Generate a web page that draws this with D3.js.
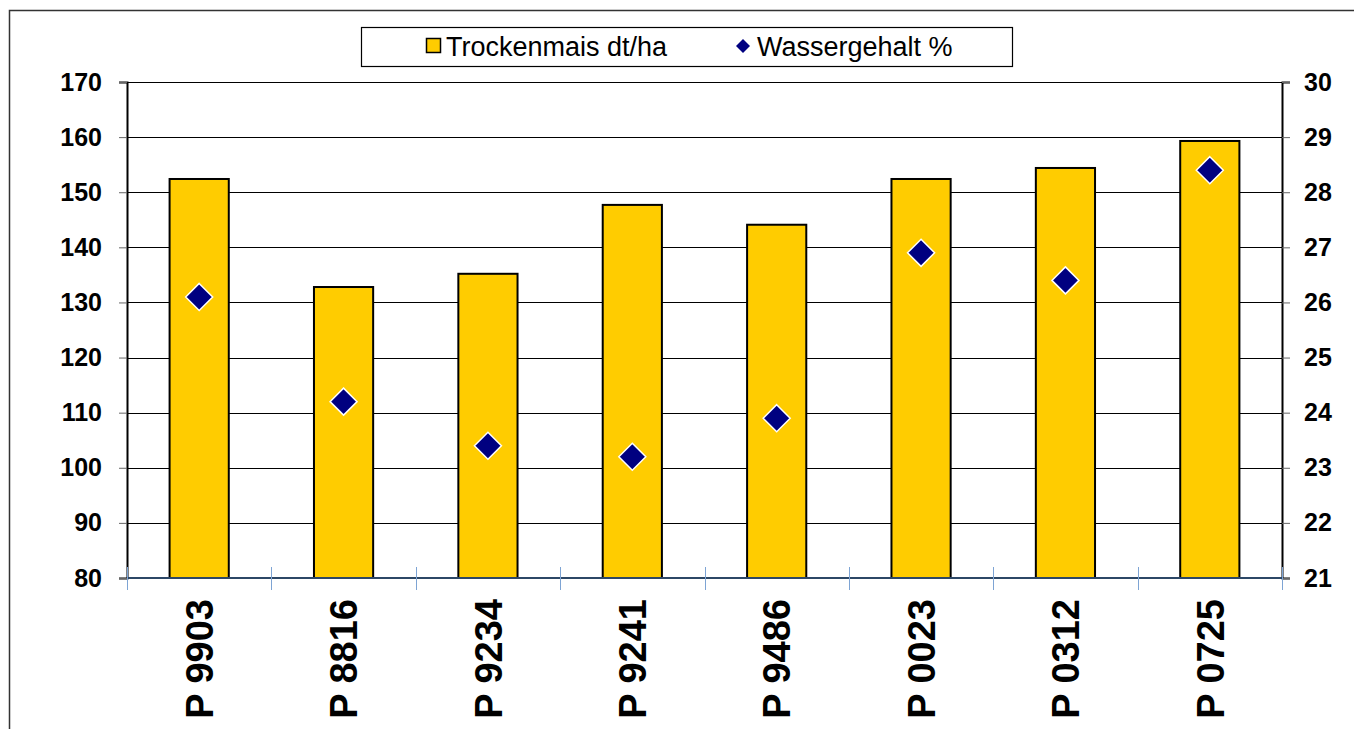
<!DOCTYPE html>
<html lang="de">

<head>
  <meta charset="UTF-8">
  <title>Trockenmais und Wassergehalt</title>
  <style>
    body {
      margin: 0;
      background: #fff;
    }

    svg {
      display: block;
      font-family: Arial, 'Liberation Sans', sans-serif;
    }

    .tick-label {
      font-size: 25px;
      font-weight: bold;
      fill: #000;
    }

    .cat-label {
      font-size: 38px;
      font-weight: bold;
      fill: #000;
    }

    .legend-text {
      font-size: 27px;
      fill: #000;
    }
  </style>
</head>

<body>
  <svg></svg>
</body>
<script src="https://d3js.org/d3.v7.min.js"></script>
<script>

  let sorten = ['P 9903', 'P 8816', 'P 9234', 'P 9241', 'P 9486', 'P 0023', 'P 0312', 'P 0725'];
  let trockenmais = [152.4, 132.8, 135.2, 147.7, 144.1, 152.4, 154.4, 159.3];
  let wassergehalt = [26.1, 24.2, 23.4, 23.2, 23.9, 26.9, 26.4, 28.4];
  let leftTicks = [80, 90, 100, 110, 120, 130, 140, 150, 160, 170];
  let rightTicks = [21, 22, 23, 24, 25, 26, 27, 28, 29, 30];

  let width = 1354,
    height = 729;

  let plot = { left: 127, right: 1282, top: 82, bottom: 578 };

  let svg = d3.select('svg')
    .attr('width', width)
    .attr('height', height);

  // outer chart frame (right and bottom edges fall outside the picture)
  svg.append('rect')
    .attr('x', 9.5)
    .attr('y', 10.5)
    .attr('width', width + 20)
    .attr('height', height + 20)
    .attr('fill', 'none')
    .attr('stroke', '#333')
    .attr('stroke-width', 1.5);

  let x = d3.scaleBand()
    .domain(sorten)
    .range([plot.left, plot.right])
    .paddingInner(0.59)
    .paddingOuter(0.295);

  let yLeft = d3.scaleLinear()
    .domain([80, 170])
    .range([plot.bottom, plot.top]);

  let yRight = d3.scaleLinear()
    .domain([21, 30])
    .range([plot.bottom, plot.top]);

  // gridlines
  svg.append('g')
    .selectAll('line')
    .data(leftTicks.slice(1))
    .enter()
    .append('line')
    .attr('x1', plot.left)
    .attr('x2', plot.right)
    .attr('y1', d => Math.round(yLeft(d)) + 0.5)
    .attr('y2', d => Math.round(yLeft(d)) + 0.5)
    .attr('stroke', '#000')
    .attr('stroke-width', 1);

  // left axis
  let leftAxis = svg.append('g')
    .attr('transform', `translate(${plot.left},0)`)
    .call(d3.axisLeft(yLeft).tickValues(leftTicks).tickSize(8).tickPadding(17));

  leftAxis.select('.domain').attr('stroke', '#000').attr('stroke-width', 2);
  leftAxis.selectAll('.tick line').attr('stroke', '#666');
  leftAxis.selectAll('.tick text')
    .attr('class', 'tick-label')
    .attr('font-family', null)
    .attr('font-size', null);

  // right axis
  let rightAxis = svg.append('g')
    .attr('transform', `translate(${plot.right},0)`)
    .call(d3.axisRight(yRight).tickValues(rightTicks).tickSize(8).tickPadding(14));

  rightAxis.select('.domain').attr('stroke', '#000').attr('stroke-width', 2);
  rightAxis.selectAll('.tick line').attr('stroke', '#666');
  rightAxis.selectAll('.tick text')
    .attr('class', 'tick-label')
    .attr('font-family', null)
    .attr('font-size', null);

  // bars
  svg.append('g')
    .selectAll('rect')
    .data(sorten)
    .enter()
    .append('rect')
    .attr('x', d => x(d))
    .attr('width', x.bandwidth())
    .attr('y', (d, i) => yLeft(trockenmais[i]))
    .attr('height', (d, i) => yLeft(80) - yLeft(trockenmais[i]))
    .attr('fill', '#FFCC00')
    .attr('stroke', '#000')
    .attr('stroke-width', 2);

  // category axis
  svg.append('line')
    .attr('x1', plot.left)
    .attr('x2', plot.right)
    .attr('y1', plot.bottom)
    .attr('y2', plot.bottom)
    .attr('stroke', '#2c4766')
    .attr('stroke-width', 2);

  let step = x.step();
  svg.append('g')
    .selectAll('line')
    .data(d3.range(sorten.length + 1))
    .enter()
    .append('line')
    .attr('x1', i => Math.round(plot.left + i * step) + 0.5)
    .attr('x2', i => Math.round(plot.left + i * step) + 0.5)
    .attr('y1', plot.bottom - 11)
    .attr('y2', plot.bottom + 12)
    .attr('stroke', '#7ea4d4')
    .attr('stroke-width', 1);

  svg.append('g')
    .selectAll('text')
    .data(sorten)
    .enter()
    .append('text')
    .attr('class', 'cat-label')
    .attr('text-anchor', 'end')
    .attr('dy', '0.36em')
    .attr('transform', d => `translate(${x(d) + x.bandwidth() / 2},${plot.bottom + 21}) rotate(-90)`)
    .text(d => d);

  // water content markers
  let diamond = 13.5;
  svg.append('g')
    .selectAll('path')
    .data(sorten)
    .enter()
    .append('path')
    .attr('transform', (d, i) => `translate(${x(d) + x.bandwidth() / 2},${yRight(wassergehalt[i])})`)
    .attr('d', `M0,${-diamond}L${diamond},0L0,${diamond}L${-diamond},0Z`)
    .attr('fill', '#000080')
    .attr('stroke', '#fff')
    .attr('stroke-width', 1.5);

  // legend
  let legend = svg.append('g');

  legend.append('rect')
    .attr('x', 361.5)
    .attr('y', 27.5)
    .attr('width', 651)
    .attr('height', 39)
    .attr('fill', '#fff')
    .attr('stroke', '#000')
    .attr('stroke-width', 1.2);

  legend.append('rect')
    .attr('x', 426.5)
    .attr('y', 38.5)
    .attr('width', 14)
    .attr('height', 14)
    .attr('fill', '#FFCC00')
    .attr('stroke', '#000')
    .attr('stroke-width', 1.5);

  legend.append('text')
    .attr('class', 'legend-text')
    .attr('x', 446)
    .attr('y', 56)
    .text('Trockenmais dt/ha');

  legend.append('path')
    .attr('transform', 'translate(743,46)')
    .attr('d', 'M0,-7L7,0L0,7L-7,0Z')
    .attr('fill', '#000080');

  legend.append('text')
    .attr('class', 'legend-text')
    .attr('x', 757)
    .attr('y', 56)
    .text('Wassergehalt %');
</script>

</html>
